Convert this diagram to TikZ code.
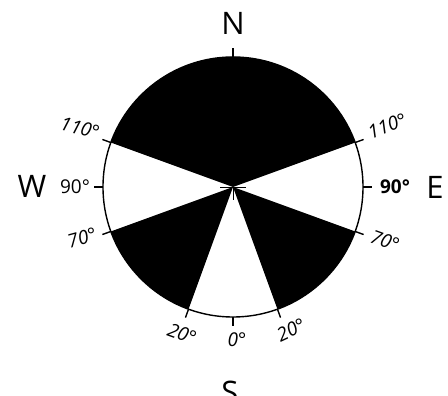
\documentclass[tikz,border=0pt]{standalone}
\usepackage{fontspec}
\setmainfont{Open Sans}
\usetikzlibrary{positioning, calc}

\begin{document}
\begin{tikzpicture}[
    x=1pt, y=1pt,
    every node/.style={inner sep=0pt},
    rim/.style={draw, line width=1.4pt},
    tickmark/.style={line width=1.4pt},
    compass/.style={anchor=base, font=\fontsize{31}{31}\selectfont},
    angle/.style={font=\itshape\fontsize{19}{19}\selectfont}
]
\useasboundingbox (0,0) rectangle (448,396);
\coordinate (c) at (233,209);

% black sectors
\fill (c) -- ++(20:130) arc (20:160:130) -- cycle;
\fill (c) -- ++(200:130) arc (200:250:130) -- cycle;
\fill (c) -- ++(290:130) arc (290:340:130) -- cycle;
\draw[rim] (c) circle (130);

% tick marks
\foreach \a in {20,90,160,180,200,250,270,290,340,0}
    \draw[tickmark] ($(c)+(\a:130)$) -- ($(c)+(\a:139)$);
\draw[line width=0.7pt] ($(c)+(-13,0)$) -- ($(c)+(13,0)$);
\draw[line width=0.7pt] (c) -- ($(c)+(0,-13)$);

% compass letters
\node[compass] (north) at (233,361) {N};
\node[compass] (west) at (32,198) {W};
\node[compass] (east) at (435,197) {E};
\node[compass] (south) at (230,-8) {S};

% angle labels
\node[angle, rotate=-15] (w110) at (80,268) {110°};
\node[angle, rotate=20] (e110) at (387,270) {110°};
\node[angle, font=\fontsize{19}{19}\selectfont] (w90) at (75,209) {90°};
\node[angle, font=\bfseries\fontsize{19}{19}\selectfont] (e90) at (395,209) {90°};
\node[angle, rotate=15] (w70) at (82,158) {70°};
\node[angle, rotate=-20] (e70) at (385,155) {70°};
\node[angle, rotate=-20] (sw20) at (182,62) {20°};
\node[angle] (s0) at (237,56) {0°};
\node[angle, rotate=25] (se20) at (291,66) {20°};
\end{tikzpicture}
\end{document}
